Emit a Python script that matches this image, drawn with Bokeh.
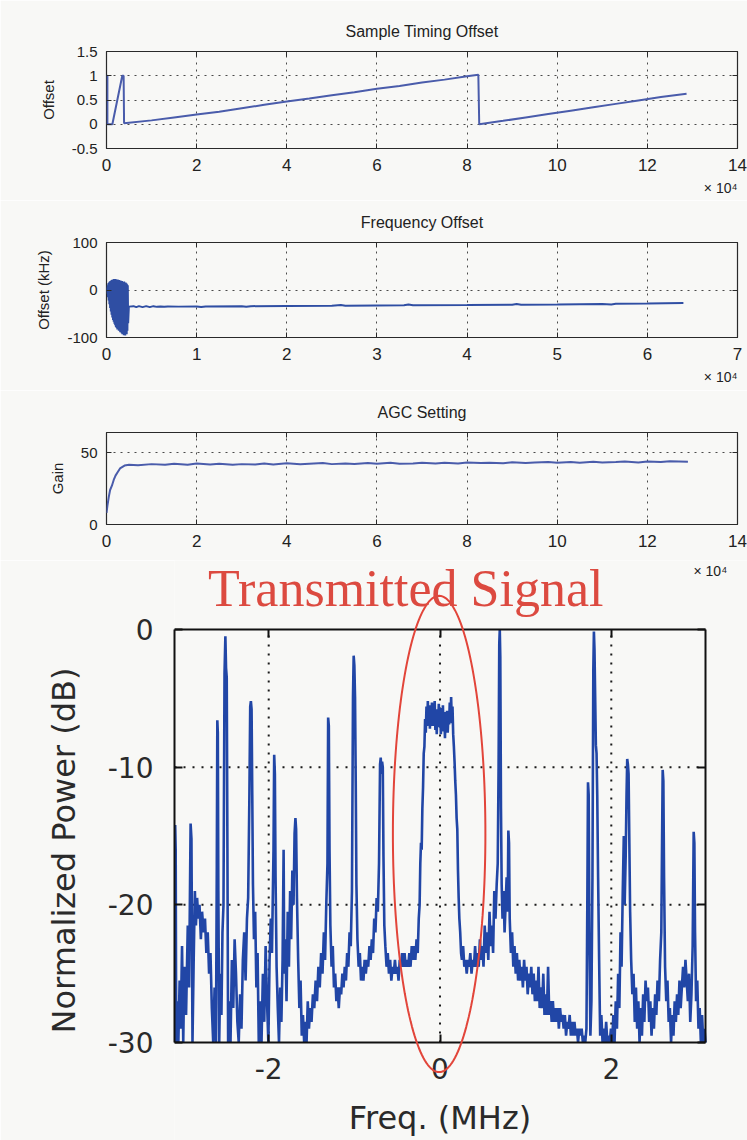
import numpy as np
from bokeh.embed import file_html
from bokeh.layouts import column
from bokeh.models import FixedTicker, Label, LinearAxis, PolyAnnotation, Range1d, Title
from bokeh.plotting import figure
from bokeh.resources import INLINE

# ---------------------------------------------------------------- data
# Sample timing offset; x in units of 1e4 samples
timing_x = [0.0, 0.02, 0.02, 0.13, 0.35, 0.38, 0.39,
            1.0, 1.5, 2.0, 2.5, 3.0, 3.5, 4.0, 4.5, 5.0, 5.5,
            6.0, 6.5, 7.0, 7.5, 8.0, 8.25, 8.27,
            8.8, 9.3, 9.8, 10.3, 10.8, 11.3, 11.8, 12.3, 12.87]
timing_offset = [1.0, 1.0, 0.0, 0.0, 1.0, 1.0, 0.02,
                 0.08, 0.14, 0.2, 0.26, 0.33, 0.4, 0.47, 0.53, 0.6, 0.66,
                 0.73, 0.79, 0.86, 0.92, 0.99, 1.02, 0.0,
                 0.07, 0.14, 0.21, 0.28, 0.35, 0.42, 0.49, 0.56, 0.63]

# Frequency offset (kHz); acquisition burst, then the tracking tail
freq_burst_x = [0.000, 0.004, 0.008, 0.012, 0.016, 0.020, 0.024, 0.028, 0.032, 0.036,
                0.040, 0.044, 0.048, 0.052, 0.056, 0.060, 0.064, 0.068, 0.072, 0.076,
                0.080, 0.084, 0.088, 0.092, 0.096, 0.100, 0.104, 0.108, 0.112, 0.116,
                0.120, 0.124, 0.128, 0.132, 0.136, 0.140, 0.144, 0.148, 0.152, 0.156,
                0.160, 0.164, 0.168, 0.172, 0.176, 0.180, 0.184, 0.188, 0.192, 0.196,
                0.200, 0.204, 0.208, 0.212, 0.216, 0.220, 0.224, 0.228, 0.232, 0.236,
                0.240]
freq_burst_khz = [0, 5, -8, 10, -15, 14, -22, 16, -30, 18,
                  -38, 19, -45, 20, -52, 21, -58, 22, -63, 22,
                  -67, 23, -71, 22, -74, 23, -78, 22, -80, 21,
                  -83, 22, -82, 20, -86, 21, -85, 19, -89, 20,
                  -88, 18, -91, 19, -93, 17, -90, 16, -95, 18,
                  -92, 15, -96, 16, -91, 14, -93, 12, -86, 10,
                  -70]
freq_tail_x = [0.248, 0.30, 0.33, 0.36, 0.40, 0.44, 0.48, 0.52, 0.56, 0.60,
               0.64, 0.68, 0.8, 1.0, 1.05, 1.1, 1.5, 1.55, 1.6, 2.0,
               2.5, 2.6, 2.65, 3.0, 3.3, 3.35, 3.4, 4.0, 4.5, 4.55,
               4.6, 5.0, 5.5, 5.6, 5.65, 6.0, 6.4]
freq_tail_khz = [-35, -34, -36, -34, -36, -34, -36, -34, -35.5, -34.5,
                 -35.5, -34.5, -35, -34.5, -36, -34.5, -34, -35.5, -34, -33.5,
                 -33, -31.5, -33, -32.5, -32, -30.5, -32, -31.5, -31, -29.5,
                 -31, -30.5, -29.5, -30.5, -29, -28.5, -27.5]

# AGC gain setting
agc_x = [0, 0.02, 0.05, 0.08, 0.12, 0.16, 0.2, 0.25, 0.3, 0.4,
         0.5, 0.7, 1.0, 1.3, 1.5, 1.8, 2.0, 2.3, 2.5, 2.8,
         3.0, 3.3, 3.5, 3.7, 4.0, 4.3, 4.5, 4.8, 5.0, 5.3,
         5.5, 5.8, 6.0, 6.3, 6.5, 6.8, 7.0, 7.3, 7.5, 7.8,
         8.0, 8.3, 8.5, 8.8, 9.0, 9.3, 9.5, 9.8, 10.0, 10.3,
         10.5, 10.8, 11.0, 11.3, 11.5, 11.8, 12.0, 12.3, 12.5, 12.7,
         12.9]
agc_gain = [8, 13, 19, 24, 27, 31, 34, 36.5, 39, 41,
            41.5, 41.3, 42, 41.5, 42.3, 41.6, 42.5, 41.8, 42.2, 41.5,
            42.0, 41.7, 42.5, 41.8, 42.6, 41.9, 42.3, 42.8, 42.0, 42.5,
            42.1, 42.7, 42.2, 42.9, 42.3, 42.5, 42.9, 42.4, 43.0, 42.5,
            43.2, 42.7, 43.0, 42.6, 43.3, 42.8, 43.1, 43.5, 42.9, 43.4,
            43.0, 43.6, 43.1, 43.5, 43.8, 43.2, 43.9, 43.4, 44.0, 43.8,
            43.6]

# Received spectrum: frequency (MHz) and normalized power (dB)
spec_freq_mhz = [
    -3.100, -3.092, -3.086, -3.080, -3.066, -3.055, -3.040, -3.028, -3.012, -2.998,
    -2.985, -2.965, -2.945, -2.930, -2.912, -2.902, -2.890, -2.876, -2.862, -2.850,
    -2.836, -2.822, -2.808, -2.792, -2.778, -2.760, -2.744, -2.728, -2.712, -2.696,
    -2.680, -2.664, -2.648, -2.632, -2.616,
    -2.606, -2.600, -2.594, -2.588, -2.578, -2.565, -2.552, -2.540, -2.528, -2.516,
    -2.506, -2.498, -2.490, -2.482, -2.474, -2.460, -2.446, -2.430, -2.414, -2.398,
    -2.382, -2.366, -2.350, -2.334, -2.318, -2.302, -2.286, -2.270, -2.254, -2.240,
    -2.226, -2.216, -2.208, -2.200, -2.192, -2.184, -2.172, -2.158, -2.144, -2.130,
    -2.116, -2.100, -2.084, -2.068, -2.052, -2.036, -2.020, -2.004, -1.990, -1.976,
    -1.962,
    -1.944, -1.936, -1.928, -1.920, -1.908, -1.894, -1.880, -1.866, -1.852, -1.838,
    -1.826, -1.818, -1.806, -1.792, -1.778, -1.764, -1.750, -1.738, -1.724, -1.710,
    -1.698, -1.688, -1.680, -1.670, -1.656, -1.642, -1.628, -1.614, -1.600, -1.586,
    -1.572, -1.558, -1.544, -1.530, -1.516, -1.500, -1.484, -1.468, -1.452, -1.436,
    -1.420, -1.404, -1.388, -1.372, -1.356, -1.342, -1.328,
    -1.314, -1.306, -1.298, -1.290, -1.280, -1.266, -1.252, -1.238, -1.224, -1.210,
    -1.196, -1.182, -1.168, -1.154, -1.140, -1.126, -1.112, -1.098, -1.084, -1.070,
    -1.056, -1.042, -1.028,
    -1.016, -1.008, -1.000, -0.992, -0.984, -0.976, -0.964, -0.950, -0.936, -0.922,
    -0.908, -0.894, -0.880, -0.866, -0.852, -0.838, -0.824, -0.810, -0.796, -0.782,
    -0.768, -0.754, -0.740, -0.726, -0.712,
    -0.700, -0.692, -0.684, -0.676, -0.668, -0.660, -0.650, -0.638, -0.624, -0.610,
    -0.596, -0.582, -0.568, -0.554, -0.540, -0.526, -0.512, -0.498, -0.484, -0.470,
    -0.456, -0.442, -0.428, -0.414, -0.400, -0.386, -0.372, -0.358, -0.344, -0.330,
    -0.316, -0.302, -0.288, -0.274, -0.260, -0.248, -0.238,
    -0.230, -0.222, -0.214, -0.206, -0.198, -0.190, -0.182, -0.174, -0.166, -0.158,
    -0.150, -0.142, -0.134, -0.126, -0.118, -0.110, -0.102, -0.094, -0.086, -0.078,
    -0.070, -0.062, -0.054, -0.046, -0.038, -0.030, -0.022, -0.014, -0.006, 0.002,
    0.010, 0.018, 0.026, 0.034, 0.042, 0.050, 0.058, 0.066, 0.074, 0.082,
    0.090, 0.098, 0.106, 0.114, 0.122, 0.130, 0.138, 0.146, 0.154, 0.162,
    0.170, 0.178, 0.186, 0.194, 0.202, 0.210, 0.218, 0.226, 0.236, 0.246,
    0.256, 0.270, 0.284, 0.298, 0.312, 0.326, 0.340, 0.354, 0.368, 0.382,
    0.396, 0.410, 0.424, 0.438, 0.452, 0.466, 0.480, 0.494, 0.508, 0.522,
    0.536, 0.550, 0.564, 0.578, 0.592, 0.606, 0.620, 0.634, 0.648, 0.662,
    0.674, 0.684,
    0.692, 0.698, 0.704, 0.712, 0.720, 0.730, 0.742, 0.754, 0.766, 0.778,
    0.790, 0.798, 0.806, 0.814, 0.828,
    0.842, 0.856, 0.870, 0.884, 0.898, 0.912, 0.926, 0.940, 0.954, 0.968,
    0.982, 0.996, 1.010, 1.024, 1.038, 1.052, 1.066, 1.080, 1.094, 1.108,
    1.122, 1.136, 1.150, 1.164, 1.178, 1.192, 1.206, 1.220, 1.234, 1.248,
    1.262, 1.276, 1.290, 1.304, 1.318, 1.332, 1.346, 1.360, 1.374, 1.388,
    1.402, 1.416, 1.430, 1.444, 1.458, 1.472, 1.486, 1.500, 1.514, 1.528,
    1.542, 1.556, 1.570, 1.584, 1.598, 1.612, 1.626, 1.640, 1.654, 1.668,
    1.682, 1.696, 1.710,
    1.720, 1.728, 1.736, 1.744, 1.756, 1.768, 1.780, 1.790, 1.797, 1.804,
    1.812, 1.820, 1.828, 1.836, 1.846, 1.858, 1.870, 1.884, 1.898, 1.912,
    1.926, 1.940, 1.954, 1.968, 1.982, 1.996, 2.010, 2.024, 2.038, 2.052,
    2.066, 2.080, 2.094, 2.108, 2.120,
    2.134, 2.146, 2.156, 2.168, 2.178, 2.186, 2.194, 2.202, 2.210, 2.220,
    2.232, 2.246, 2.260, 2.274, 2.288, 2.302, 2.316, 2.330, 2.344, 2.358,
    2.372, 2.386, 2.400, 2.414, 2.428, 2.442, 2.456, 2.470, 2.484, 2.498,
    2.512, 2.526, 2.540, 2.556, 2.570, 2.584,
    2.592, 2.600, 2.608, 2.616, 2.628, 2.642, 2.656, 2.670, 2.684, 2.698,
    2.712, 2.726, 2.740, 2.754, 2.768, 2.782, 2.796, 2.810, 2.824, 2.838,
    2.852, 2.866, 2.880, 2.894, 2.908, 2.922, 2.936, 2.950,
    2.962, 2.970, 2.978, 2.990, 3.004, 3.018, 3.032, 3.046, 3.060, 3.074,
    3.088, 3.100,
]
spec_power_db = [
    -30.0, -14.2, -16.0, -30.0, -27.0, -30.0, -25.5, -29.0, -23.0, -30.0,
    -24.5, -28.0, -21.5, -26.0, -14.1, -15.2, -30.0, -24.0, -19.0, -21.5,
    -19.5, -21.0, -20.0, -22.5, -20.5, -22.0, -21.0, -23.5, -22.0, -25.0,
    -23.5, -27.5, -30.0, -26.0, -30.0,
    -17.0, -6.6, -7.5, -19.0, -30.0, -25.0, -28.0, -22.0, -20.0, -3.2,
    -0.5, -2.8, -3.5, -16.0, -30.0, -27.0, -30.0, -24.0, -27.5, -22.5,
    -25.0, -28.5, -30.0, -26.5, -29.0, -24.0, -22.0, -25.5, -21.0, -19.5,
    -12.3, -5.6, -5.2, -5.8, -12.0, -18.5, -22.5, -20.5, -26.0, -23.5,
    -30.0, -27.0, -30.0, -25.0, -28.5, -23.0, -27.0, -30.0, -24.0, -21.0,
    -23.5,
    -16.0, -9.1, -10.5, -18.0, -24.5, -27.5, -30.0, -26.0, -28.5, -24.0,
    -16.0, -25.0, -22.5, -27.0, -20.5, -24.5, -19.0, -22.5, -17.5, -20.0,
    -14.8, -13.7, -14.5, -19.5, -24.0, -27.5, -25.5, -29.5, -28.0, -30.0,
    -28.5, -30.0, -27.0, -29.0, -27.5, -28.5, -26.5, -27.5, -25.5, -27.0,
    -24.5, -26.0, -23.5, -25.0, -22.0, -24.0, -20.0,
    -17.0, -6.4, -7.0, -16.0, -21.5, -24.5, -23.0, -26.0, -25.0, -27.0,
    -26.0, -27.5, -26.0, -26.5, -25.0, -26.0, -24.5, -25.5, -23.5, -24.5,
    -22.0, -23.0, -19.0,
    -4.9, -1.9, -2.6, -4.9, -11.0, -18.5, -22.5, -24.5, -23.5, -25.5,
    -24.5, -25.5, -24.0, -25.0, -24.0, -24.5, -23.0, -24.0, -22.5, -23.5,
    -21.0, -22.0, -19.5, -20.5, -17.0,
    -9.8, -9.3, -10.5, -9.6, -10.0, -16.5, -21.5, -23.0, -24.5, -23.5,
    -25.0, -24.0, -25.5, -24.5, -25.0, -24.0, -25.0, -24.5, -25.5, -24.0,
    -24.5, -23.5, -24.5, -23.5, -24.5, -24.0, -24.5, -23.5, -24.5, -23.0,
    -24.0, -23.0, -24.0, -22.5, -23.5, -21.0, -20.0,
    -17.0, -15.5, -16.0, -13.0, -11.5, -9.0, -8.5, -6.5, -7.5, -5.6,
    -7.0, -5.2, -6.8, -5.5, -7.2, -5.8, -6.4, -5.3, -7.0, -5.6,
    -6.6, -5.2, -7.3, -6.0, -7.6, -5.8, -6.9, -5.4, -7.1, -6.0,
    -7.6, -5.7, -7.0, -5.5, -7.4, -6.2, -7.9, -6.0, -7.3, -5.9,
    -7.5, -6.3, -6.9, -5.3, -6.7, -4.9, -6.8, -5.6, -7.6, -8.5,
    -9.6, -11.0, -12.0, -13.7, -14.5, -17.5, -19.5, -21.0, -22.0, -23.5,
    -24.0, -23.0, -24.5, -24.0, -25.0, -24.0, -24.5, -23.5, -25.0, -24.0,
    -24.5, -23.0, -24.5, -23.5, -24.5, -22.5, -24.0, -23.0, -24.5, -21.5,
    -23.5, -22.0, -24.0, -20.5, -23.0, -21.5, -23.5, -19.0, -21.0, -18.5,
    -17.0, -10.0,
    -1.0, 0.0, -2.0, -13.0, -18.5, -21.0, -19.0, -22.0, -20.0, -18.0,
    -20.5, -14.6, -15.5, -21.0, -23.5,
    -22.0, -24.5, -23.0, -25.0, -23.5, -25.5, -24.0, -25.5, -24.5, -26.0,
    -24.0, -25.5, -24.5, -26.5, -25.0, -26.0, -24.5, -26.5, -25.0, -27.0,
    -25.5, -27.0, -24.5, -27.5, -26.0, -27.5, -25.0, -28.0, -26.5, -28.0,
    -24.5, -28.0, -27.0, -28.5, -27.0, -28.5, -27.5, -28.5, -27.5, -29.0,
    -27.5, -28.5, -28.0, -29.0, -28.0, -29.5, -28.5, -29.0, -28.0, -29.5,
    -28.5, -29.5, -28.5, -29.5, -29.0, -30.0, -29.0, -29.5, -29.0, -30.0,
    -29.5, -30.0, -29.0,
    -20.0, -11.1, -12.0, -22.0, -29.5, -27.0, -18.0, -3.0, -0.15, -1.5,
    -5.0, -8.4, -9.0, -12.0, -18.0, -24.0, -29.5, -28.0, -30.0, -29.0,
    -30.0, -28.5, -30.0, -29.5, -30.0, -29.0, -30.0, -28.0, -30.0, -27.0,
    -29.0, -25.0, -27.5, -22.0, -24.5,
    -19.0, -15.0, -20.0, -16.5, -12.0, -9.4, -9.8, -10.5, -15.0, -20.5,
    -24.0, -26.5, -25.0, -28.5, -26.0, -29.0, -27.0, -30.0, -27.5, -29.5,
    -26.5, -28.5, -25.5, -27.0, -26.0, -28.5, -27.0, -29.5, -27.5, -29.0,
    -26.5, -28.0, -25.5, -27.0, -24.0, -22.0,
    -16.0, -10.2, -11.0, -18.0, -24.5, -27.0, -25.5, -28.5, -27.5, -30.0,
    -28.0, -29.5, -27.0, -28.5, -26.5, -28.0, -25.5, -27.5, -26.0, -24.5,
    -26.0, -24.0, -25.5, -27.0, -25.0, -28.5, -26.5, -23.0,
    -14.7, -15.5, -22.0, -27.0, -25.5, -29.0, -27.5, -30.0, -28.0, -30.0,
    -29.0, -30.0,
]

# Highlight around the transmitted band: centre (MHz, dB) and semi-axes
band_centre = (-0.01, -14.85)
band_semi_axes = (0.54, 17.3)

# ---------------------------------------------------------------- styling
BG = "#f8f8f6"
SANS = "Liberation Sans"
INK = "#222222"
TRACE = "#4a5cab"


def mirror_axes(p, xt, yt, tick_len, tick_w, color, x_loc=None, y_loc=None,
                x_bounds="auto", y_bounds="auto", line_w=None):
    for side, ticker, loc, bounds in (("above", xt, x_loc, x_bounds),
                                      ("right", yt, y_loc, y_bounds)):
        ax = LinearAxis(ticker=ticker, fixed_location=loc, bounds=bounds)
        ax.major_label_overrides = {t: "" for t in ticker.ticks}
        ax.major_label_text_font_size = "1px"
        ax.major_label_standoff = 0
        if line_w is None:
            ax.axis_line_color = None
        else:
            ax.axis_line_color = color
            ax.axis_line_width = line_w
        ax.major_tick_in = tick_len
        ax.major_tick_out = 0
        ax.major_tick_line_width = tick_w
        ax.major_tick_line_color = color
        ax.minor_tick_line_color = None
        p.add_layout(ax, side)


def small_panel(title, height, top, frame_h, x_end, x_ticks,
                y_lo, y_hi, y_ticks, y_text, y_label):
    p = figure(width=747, height=height,
               x_range=Range1d(0, x_end), y_range=Range1d(y_lo, y_hi),
               output_backend="svg", toolbar_location=None, frame_align=False,
               min_border_left=106, min_border_right=10,
               min_border_top=top, min_border_bottom=height - top - frame_h,
               background_fill_color=BG, border_fill_color=BG,
               outline_line_color="#2a2a2a", outline_line_width=1.2)
    p.title.text = title
    p.title.align = "center"
    p.title.text_font = SANS
    p.title.text_font_size = "16px"
    p.title.text_font_style = "normal"
    p.title.text_color = INK
    p.title.standoff = 23

    xt = FixedTicker(ticks=x_ticks)
    yt = FixedTicker(ticks=y_ticks)

    xa = p.xaxis[0]
    xa.ticker = xt
    xa.major_label_overrides = {t: str(t) for t in x_ticks}
    xa.major_label_text_font = SANS
    xa.major_label_text_font_size = "17px"
    xa.major_label_text_color = INK
    xa.major_label_standoff = 10

    ya = p.yaxis[0]
    ya.ticker = yt
    ya.major_label_overrides = dict(zip(y_ticks, y_text))
    ya.major_label_text_font = SANS
    ya.major_label_text_font_size = "15px"
    ya.major_label_text_color = INK
    ya.major_label_standoff = 9
    ya.axis_label = y_label
    ya.axis_label_text_font = SANS
    ya.axis_label_text_font_size = "15px"
    ya.axis_label_text_font_style = "normal"
    ya.axis_label_text_color = INK
    ya.axis_label_standoff = 12

    for ax in (xa, ya):
        ax.axis_line_color = None
        ax.major_tick_in = 5
        ax.major_tick_out = 0
        ax.major_tick_line_color = "#2a2a2a"
        ax.minor_tick_line_color = None
    mirror_axes(p, xt, yt, 5, 1, "#2a2a2a")

    p.xgrid.ticker = xt
    p.ygrid.ticker = yt
    for g in (p.xgrid, p.ygrid):
        g.grid_line_color = "#4a4a4a"
        g.grid_line_dash = "2 5"
        g.grid_line_width = 1
    return p


def exponent_title(p):
    p.add_layout(Title(text="× 10⁴", align="right", text_font=SANS,
                       text_font_size="14px", text_font_style="normal",
                       text_color=INK, standoff=8), "below")


# ---------------------------------------------------------------- panels
p1 = small_panel("Sample Timing Offset", 200, 51, 97, 14, list(range(0, 15, 2)),
                 -0.5, 1.5, [-0.5, 0, 0.5, 1, 1.5], ["-0.5", "0", "0.5", "1", "1.5"],
                 "Offset")
p1.line(timing_x, timing_offset, line_color=TRACE, line_width=2)
exponent_title(p1)

p2 = small_panel("Frequency Offset", 190, 39, 98, 7, list(range(0, 8)),
                 -100, 100, [-100, 0, 100], ["-100", "0", "100"], "Offset (kHz)")
p2.line(freq_burst_x + freq_tail_x, freq_burst_khz + freq_tail_khz,
        line_color="#2f4ea3", line_width=2)
exponent_title(p2)

p3 = small_panel("AGC Setting", 170, 38, 96, 14, list(range(0, 15, 2)),
                 0, 64, [0, 50], ["0", "50"], "Gain")
p3.line(agc_x, agc_gain, line_color=TRACE, line_width=2)

# ---------------------------------------------------------------- spectrum
# The frame covers the whole lower canvas so that the highlight ellipse and
# the caption can run past the axes box; the box itself is drawn by axes
# pinned to the range limits.
X_LO, X_HI = -3.1, 3.1
Y_LO, Y_HI = -30, 0
PX_MHZ = 531 / (X_HI - X_LO)
PX_DB = 413 / (Y_HI - Y_LO)
p4 = figure(width=747, height=580, title=None,
            x_range=Range1d(X_LO, X_HI + 42 / PX_MHZ),
            y_range=Range1d(Y_LO - 98 / PX_DB, Y_HI + 69 / PX_DB),
            output_backend="svg", toolbar_location=None, frame_align=False,
            min_border_left=174, min_border_right=0,
            min_border_top=0, min_border_bottom=0,
            background_fill_color=BG, border_fill_color=BG,
            outline_line_color=None)
p4.xgrid.visible = False
p4.ygrid.visible = False
BOX = "#111111"
spec_x_ticks = [-2, 0, 2]
spec_y_ticks = [-30, -20, -10, 0]
sx = FixedTicker(ticks=spec_x_ticks)
sy = FixedTicker(ticks=spec_y_ticks)
xa = p4.xaxis[0]
xa.ticker = sx
xa.fixed_location = Y_LO
xa.bounds = (X_LO, X_HI)
xa.major_label_overrides = {-2: "-2", 0: "0", 2: "2"}
xa.axis_label = "Freq. (MHz)"
ya = p4.yaxis[0]
ya.ticker = sy
ya.bounds = (Y_LO, Y_HI)
ya.major_label_overrides = {-30: "-30", -20: "-20", -10: "-10", 0: "0"}
ya.axis_label = "Normalized Power (dB)"
for ax in (xa, ya):
    ax.axis_line_color = BOX
    ax.axis_line_width = 2
    ax.major_tick_in = 8
    ax.major_tick_out = 0
    ax.major_tick_line_width = 2
    ax.major_tick_line_color = BOX
    ax.minor_tick_line_color = None
    ax.major_label_text_font = "DejaVu Sans"
    ax.major_label_text_font_size = "28px"
    ax.major_label_text_color = "#2a2a2a"
    ax.axis_label_text_font = "DejaVu Sans"
    ax.axis_label_text_font_size = "32px"
    ax.axis_label_text_font_style = "normal"
    ax.axis_label_text_color = "#2a2a2a"
xa.major_label_standoff = 15
xa.axis_label_standoff = 17
ya.major_label_standoff = 21
ya.axis_label_standoff = 22
mirror_axes(p4, sx, sy, 8, 2, BOX, x_loc=Y_HI, y_loc=X_HI,
            x_bounds=(X_LO, X_HI), y_bounds=(Y_LO, Y_HI), line_w=2)

# dotted grid, kept inside the axes box
inner_x = [t for t in spec_x_ticks if X_LO < t < X_HI]
inner_y = [t for t in spec_y_ticks if Y_LO < t < Y_HI]
grid_style = dict(line_color="#1a1a1a", line_dash="2 7", line_width=2)
p4.segment(x0=inner_x, y0=[Y_LO] * len(inner_x), x1=inner_x, y1=[Y_HI] * len(inner_x),
           **grid_style)
p4.segment(x0=[X_LO] * len(inner_y), y0=inner_y, x1=[X_HI] * len(inner_y), y1=inner_y,
           **grid_style)

p4.line(spec_freq_mhz, spec_power_db, line_color="#2146a6", line_width=2.6)

t = np.linspace(0, 2 * np.pi, 181)
p4.add_layout(PolyAnnotation(
    xs=list(band_centre[0] + band_semi_axes[0] * np.cos(t)),
    ys=list(band_centre[1] + band_semi_axes[1] * np.sin(t)),
    xs_units="data", ys_units="data",
    fill_color=None, line_color="#e2453a", line_alpha=1.0, line_width=2))
p4.add_layout(Label(x=-0.40, y=2.95, text="Transmitted Signal",
                    text_font="Liberation Serif", text_font_size="52px",
                    text_color="#dc4a40", text_align="center",
                    text_baseline="alphabetic"))
# exponent of the AGC panel's sample axis, which sits just above this box
p4.add_layout(Label(x=X_LO + (693 - 174) / PX_MHZ, y=Y_HI + (629 - 570) / PX_DB,
                    text="× 10⁴", text_font=SANS, text_font_size="14px",
                    text_color=INK, text_baseline="middle", text_align="left"))

layout = column(p1, p2, p3, p4, spacing=0)
open("out.html", "w").write(file_html(layout, INLINE))
